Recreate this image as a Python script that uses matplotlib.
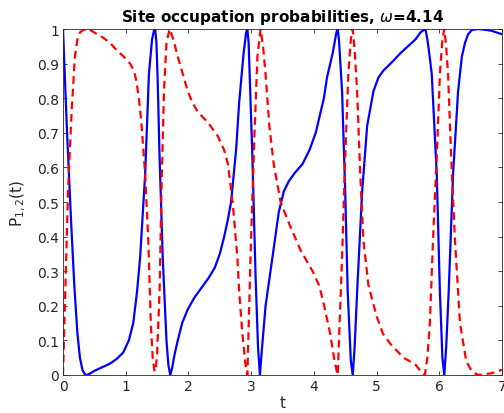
import matplotlib
matplotlib.use('Agg')
import matplotlib.pyplot as plt

# P1(t), blue solid line
t1 = [0.0, 0.03, 0.06, 0.10, 0.13, 0.18, 0.23, 0.27, 0.31, 0.35, 0.38, 0.43, 0.50, 0.62, 0.75, 0.86, 0.96, 1.05, 1.12,
      1.18, 1.23, 1.31, 1.37, 1.42, 1.45, 1.47, 1.49,
      1.51, 1.54, 1.59, 1.65, 1.68, 1.71, 1.74, 1.78, 1.83, 1.90, 1.99, 2.1, 2.2, 2.32, 2.42, 2.5, 2.57, 2.63, 2.68,
      2.76, 2.81, 2.88, 2.92, 2.94, 2.96,
      2.98, 3.02, 3.07, 3.11, 3.14, 3.17, 3.23, 3.34, 3.44, 3.52, 3.6, 3.7, 3.82, 3.93, 4.03, 4.16, 4.21, 4.30, 4.36,
      4.38, 4.40,
      4.45, 4.5, 4.54, 4.59, 4.62, 4.65, 4.69, 4.77, 4.85, 4.95, 5.03, 5.11, 5.25, 5.38, 5.5, 5.62, 5.70, 5.76, 5.78,
      5.81, 5.84, 5.88, 5.96, 6.01, 6.05, 6.08, 6.11, 6.15, 6.22, 6.30, 6.36, 6.41, 6.46, 6.52, 6.62, 6.72, 6.83, 7.0]
p1 = [1.0, 0.86, 0.72, 0.56, 0.44, 0.26, 0.12, 0.05, 0.015, 0.002, 0.0, 0.004, 0.012, 0.022, 0.033, 0.047, 0.065, 0.10,
      0.15, 0.24, 0.34, 0.58, 0.87, 0.97, 0.995, 1.0, 0.96,
      0.85, 0.63, 0.34, 0.10, 0.03, 0.0, 0.02, 0.06, 0.10, 0.15, 0.19, 0.225, 0.25, 0.28, 0.31, 0.35, 0.40, 0.45, 0.50,
      0.65, 0.79, 0.93, 0.99, 1.0, 0.96,
      0.85, 0.63, 0.29, 0.08, 0.0, 0.07, 0.20, 0.34, 0.47, 0.53, 0.56, 0.585, 0.61, 0.65, 0.70, 0.80, 0.86, 0.93, 0.99,
      1.0, 0.97,
      0.82, 0.53, 0.24, 0.04, 0.0, 0.08, 0.24, 0.53, 0.72, 0.82, 0.86, 0.88, 0.905, 0.93, 0.95, 0.97, 0.99, 0.998, 1.0,
      0.97, 0.93, 0.87, 0.58, 0.24, 0.05, 0.0, 0.08, 0.24, 0.58, 0.82, 0.92, 0.96, 0.985, 0.997, 1.0, 0.998, 0.995,
      0.985]

# P2(t), red dashed line
t2 = [0.0, 0.03, 0.08, 0.14, 0.19, 0.23, 0.27, 0.33, 0.40, 0.50, 0.64, 0.75, 0.85, 0.97, 1.07, 1.13, 1.17, 1.21,
      1.25, 1.31, 1.36, 1.40, 1.43, 1.46, 1.48,
      1.50, 1.54, 1.57, 1.61, 1.65, 1.70, 1.76, 1.83, 1.91, 1.99, 2.07, 2.15, 2.31, 2.47, 2.57, 2.63, 2.71, 2.78, 2.81,
      2.86, 2.91, 2.94,
      2.99, 3.05, 3.10, 3.15, 3.19, 3.23, 3.29, 3.36, 3.47, 3.6, 3.79, 3.98, 4.08, 4.14, 4.20, 4.26, 4.33, 4.38,
      4.45, 4.5, 4.55, 4.59, 4.62, 4.65, 4.69, 4.74, 4.79, 4.87, 5.0, 5.1, 5.22, 5.43, 5.62, 5.70, 5.77,
      5.81, 5.85, 5.9, 5.96, 6.01, 6.05, 6.08, 6.11, 6.14, 6.19, 6.25, 6.33, 6.43, 6.52, 6.62, 6.83, 7.0]
p2 = [0.0, 0.20, 0.53, 0.77, 0.92, 0.97, 0.99, 0.998, 1.0, 0.99, 0.975, 0.96, 0.94, 0.92, 0.90, 0.88, 0.85, 0.80,
      0.73, 0.58, 0.39, 0.15, 0.05, 0.01, 0.02,
      0.06, 0.24, 0.53, 0.82, 0.96, 1.0, 0.97, 0.92, 0.87, 0.82, 0.785, 0.76, 0.73, 0.69, 0.65, 0.61, 0.49, 0.34, 0.24,
      0.12, 0.03, 0.0,
      0.34, 0.68, 0.92, 1.0, 0.95, 0.87, 0.72, 0.61, 0.50, 0.44, 0.36, 0.30, 0.26, 0.22, 0.17, 0.12, 0.04, 0.0,
      0.34, 0.63, 0.87, 0.97, 1.0, 0.94, 0.82, 0.58, 0.39, 0.26, 0.17, 0.12, 0.09, 0.05, 0.03, 0.012, 0.0,
      0.05, 0.15, 0.39, 0.63, 0.87, 0.97, 1.0, 0.95, 0.87, 0.63, 0.39, 0.15, 0.04, 0.01, 0.0, 0.005, 0.015]

xticks = [0, 1, 2, 3, 4, 5, 6, 7]
yticks = [0, 0.1, 0.2, 0.3, 0.4, 0.5, 0.6, 0.7, 0.8, 0.9, 1]
ytick_labels = ['0', '0.1', '0.2', '0.3', '0.4', '0.5', '0.6', '0.7', '0.8', '0.9', '1']

grey = '#262626'
fig = plt.figure(figsize=(5.04, 4.14), dpi=100)
ax = fig.add_axes([0.125, 0.0918, 0.871, 0.8357])

ax.plot(t1, p1, '-', color='#0000ff', linewidth=1.6)
ax.plot(t2, p2, '--', color='#ff0000', linewidth=1.6, dashes=(3.5, 2.2))

ax.set_xlim(0, 7)
ax.set_ylim(0, 1)
ax.set_xticks(xticks)
ax.set_yticks(yticks)
ax.set_yticklabels(ytick_labels)
ax.tick_params(direction='in', top=True, right=True, length=3, width=0.6,
               colors=grey, labelcolor=grey, labelsize=10, pad=3)
for s in ax.spines.values():
    s.set_color(grey)
    s.set_linewidth(0.6)

ax.set_title(r'Site occupation probabilities, $\omega$=4.14', fontsize=11, fontweight='bold', pad=6)
ax.set_xlabel('t', fontsize=11, color=grey, labelpad=1)
ax.set_ylabel(r'P$_{1,2}$(t)', fontsize=11, color=grey, labelpad=6)

fig.savefig('out.png', dpi=100)
